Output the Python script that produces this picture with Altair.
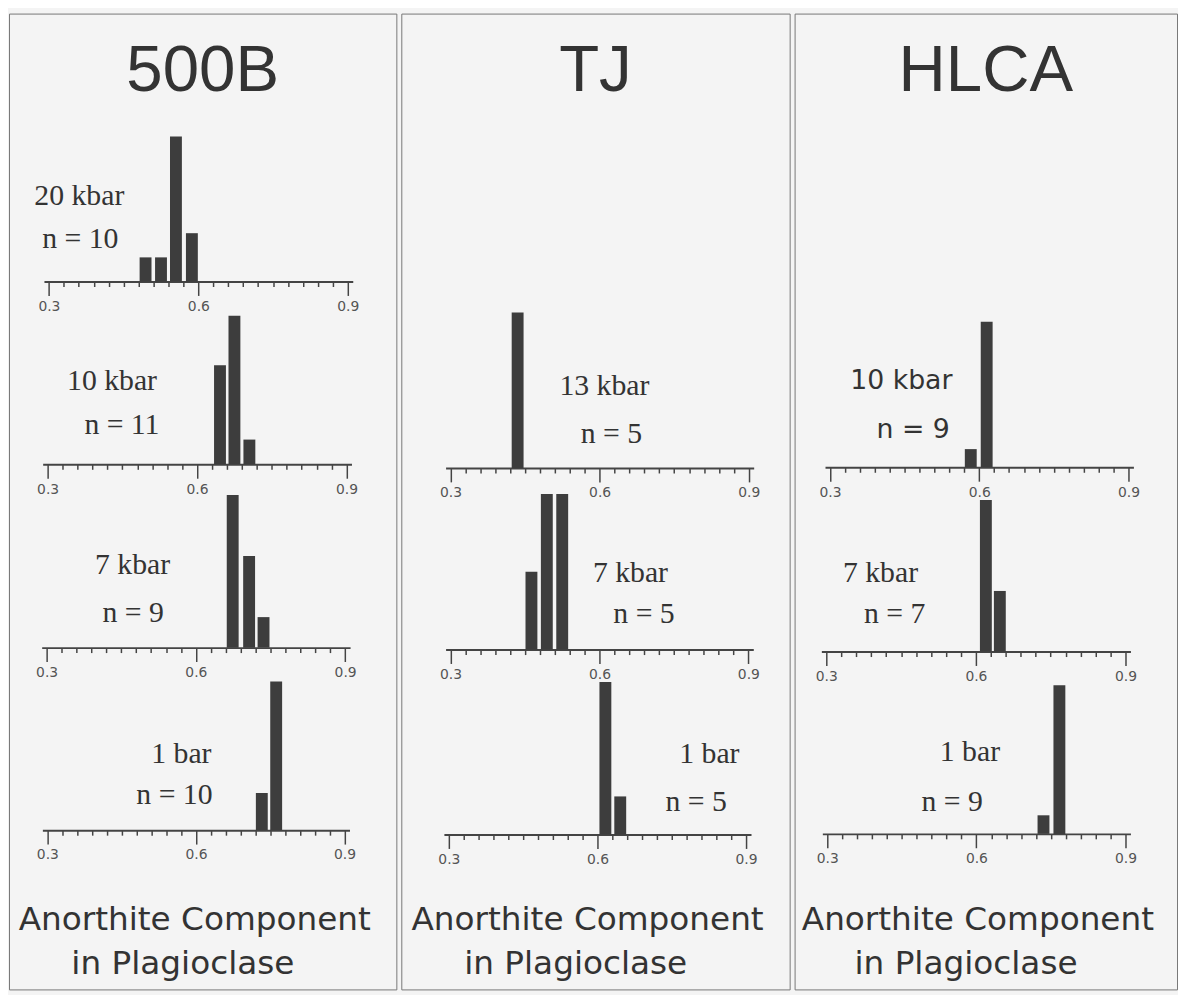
import altair as alt
import pandas as pd

# ---------------- data ----------------
sites = ["500B", "TJ", "HLCA"]

s500b_pressure = ["20 kbar", "10 kbar", "7 kbar", "1 bar"]
s500b_n = ["n = 10", "n = 11", "n = 9", "n = 10"]
s500b_an = [[0.494, 0.525, 0.555, 0.587], [0.646, 0.675, 0.705], [0.674, 0.707, 0.736], [0.733, 0.762]]
s500b_counts = [[1, 1, 6, 2], [4, 6, 1], [5, 3, 1], [2, 8]]

tj_pressure = ["13 kbar", "7 kbar", "1 bar"]
tj_n = ["n = 5", "n = 5", "n = 5"]
tj_an = [[0.435], [0.463, 0.494, 0.525], [0.616, 0.646]]
tj_counts = [[5], [1, 2, 2], [4, 1]]

hlca_pressure = ["10 kbar", "7 kbar", "1 bar"]
hlca_n = ["n = 9", "n = 7", "n = 9"]
hlca_an = [[0.583, 0.615], [0.620, 0.648], [0.735, 0.767]]
hlca_counts = [[1, 8], [5, 2], [1, 8]]

major_ticks = [0.3, 0.6, 0.9]
minor_ticks = [0.33, 0.36, 0.39, 0.42, 0.45, 0.48, 0.51, 0.54, 0.57,
               0.63, 0.66, 0.69, 0.72, 0.75, 0.78, 0.81, 0.84, 0.87]
x_label_lines = ["Anorthite Component", "in Plagioclase"]

# ---------------- layout / style ----------------
TOP = 8
H = 985
COL_W = [391, 392, 386]
COL_LEFT = [8, 402, 797]
BAR = "#3d3d3d"
TXT = "#333333"
AXC = "#444444"
SERIF = "Liberation Serif"
SANS = "DejaVu Sans"

# page-coordinate layout per cell: axis y, x range, tallest bar px, label anchors
cell_layout = [
    [
        dict(axis=278.5, x=(43.3, 355.0), h=146.5, p=(79, 201.7), n=(80, 245.0)),
        dict(axis=463.0, x=(42.0, 353.7), h=150.0, p=(112, 388.0), n=(122, 432.7)),
        dict(axis=648.0, x=(41.0, 352.3), h=154.0, p=(132.7, 574.0), n=(133.3, 621.7)),
        dict(axis=832.3, x=(41.7, 351.7), h=150.0, p=(182, 764.0), n=(175, 805.7)),
    ],
    [
        dict(axis=466.7, x=(446.7, 757.7), h=157.0, p=(607, 392.7), n=(614, 441.0)),
        dict(axis=650.0, x=(446.7, 757.3), h=157.0, p=(633.3, 581.7), n=(647, 622.7)),
        dict(axis=836.7, x=(445.0, 755.0), h=154.0, p=(713, 764.3), n=(699.7, 812.7)),
    ],
    [
        dict(axis=466.0, x=(827.7, 1139.0), h=147.0, p=(904.7, 387.3), n=(916.7, 436.7), font=SANS, fs=27),
        dict(axis=652.0, x=(824.0, 1136.0), h=153.0, p=(883.7, 581.7), n=(898, 622.7)),
        dict(axis=836.0, x=(825.0, 1136.0), h=150.0, p=(974, 762.7), n=(956, 812.7)),
    ],
]
title_layout = dict(y=86, size=66)
xlabel_layout = dict(y=[933, 977], dx=[-8, -20], size=33)

site_data = [
    (s500b_pressure, s500b_n, s500b_an, s500b_counts),
    (tj_pressure, tj_n, tj_an, tj_counts),
    (hlca_pressure, hlca_n, hlca_an, hlca_counts),
]


def text_layer(txt, x, y, font, size, color=TXT):
    return alt.Chart(pd.DataFrame({"t": [txt]})).mark_text(
        font=font, fontSize=size, color=color, align="center", baseline="alphabetic"
    ).encode(x=alt.value(x), y=alt.value(y), text="t:N")


def cell_layers(an, counts, lay, left):
    df = pd.DataFrame({"an": an, "count": counts})
    xl, xr = lay["x"][0] - left, lay["x"][1] - left
    ay = lay["axis"] - TOP
    xscale = alt.Scale(domain=[0.3, 0.9], range=[xl, xr], nice=False, zero=False)
    yscale = alt.Scale(domain=[0, max(counts)], range=[ay, ay - lay["h"]], nice=False)
    offset = ay - H
    major = alt.Axis(values=major_ticks, format=".1f", orient="bottom", offset=offset,
                     tickSize=14, tickWidth=1.5, labelPadding=4, domainWidth=2,
                     domainColor=AXC, tickColor=AXC, grid=False, title=None,
                     labelFont=SANS, labelFontSize=14, labelColor="#555555",
                     labelFlush=False, labelOverlap=False, labelBound=False)
    minor = alt.Axis(values=minor_ticks, orient="bottom", offset=offset, tickSize=5,
                     tickWidth=1.5, tickColor=AXC, labels=False, domain=False,
                     grid=False, title=None)
    ghost = alt.Chart(df).mark_bar(size=12, opacity=0, orient="vertical").encode(
        x=alt.X("an:Q", scale=xscale, axis=minor),
        y=alt.Y("count:Q", scale=yscale, axis=None, stack=None),
    )
    bars = alt.Chart(df).mark_bar(size=12, color=BAR, orient="vertical").encode(
        x=alt.X("an:Q", scale=xscale, axis=major),
        y=alt.Y("count:Q", scale=yscale, axis=None, stack=None),
    )
    return [ghost, bars]


columns = []
for ci, site in enumerate(sites):
    left = COL_LEFT[ci]
    pressures, ns, ans, cnts = site_data[ci]
    layers = []
    for ri in range(len(pressures)):
        lay = cell_layout[ci][ri]
        layers += cell_layers(ans[ri], cnts[ri], lay, left)
        font = lay.get("font", SERIF)
        fs = lay.get("fs", 30)
        layers.append(text_layer(pressures[ri], lay["p"][0] - left, lay["p"][1] - TOP, font, fs))
        layers.append(text_layer(ns[ri], lay["n"][0] - left, lay["n"][1] - TOP, font, fs))
    cx = COL_W[ci] / 2
    layers.append(text_layer(site, cx, title_layout["y"] - TOP, "Liberation Sans", title_layout["size"]))
    for li, line in enumerate(x_label_lines):
        layers.append(text_layer(line, cx + xlabel_layout["dx"][li], xlabel_layout["y"][li] - TOP,
                                 SANS, xlabel_layout["size"]))
    col = alt.layer(*layers).properties(width=COL_W[ci], height=H).resolve_scale(
        x="independent", y="independent")
    columns.append(col)

chart = alt.hconcat(*columns, spacing=3).properties(
    background="#f4f4f4", padding=0
).configure_view(stroke="#777777", strokeWidth=1)

chart.save("out.html", embed_options={"renderer": "svg", "actions": False})
